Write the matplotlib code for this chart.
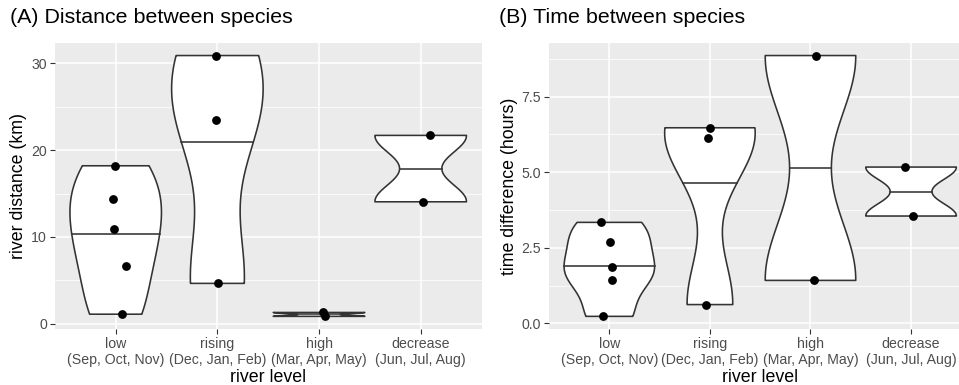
import numpy as np
import matplotlib
matplotlib.use('Agg')
import matplotlib.pyplot as plt

# Categories (river level)
LEVELS = ['low\n(Sep, Oct, Nov)', 'rising\n(Dec, Jan, Feb)',
          'high\n(Mar, Apr, May)', 'decrease\n(Jun, Jul, Aug)']

# Panel A: river distance between species (km), one list per level
dist_km = [
    [18.2, 14.4, 10.9, 6.6, 1.1],
    [30.9, 23.5, 4.65],
    [1.3, 0.85],
    [21.7, 14.05],
]
# horizontal jitter of the points (in category units)
dist_jitter = [
    [-0.01, -0.023, -0.02, 0.105, 0.066],
    [-0.016, -0.01, 0.003],
    [0.04, 0.056],
    [0.095, 0.023],
]

# Panel B: time difference between species (hours)
time_h = [
    [3.34, 2.68, 1.85, 1.43, 0.23],
    [6.47, 6.13, 0.62],
    [8.86, 1.42],
    [5.17, 3.55],
]
time_jitter = [
    [-0.083, 0.01, 0.027, 0.027, -0.06],
    [0.0, -0.017, -0.037],
    [0.05, 0.037],
    [-0.057, 0.023],
]

DIST_TICKS = [0, 10, 20, 30]
DIST_MINOR = [5, 15, 25]
TIME_TICKS = [0.0, 2.5, 5.0, 7.5]
TIME_MINOR = [1.25, 3.75, 6.25, 8.75]

FONT = 'Liberation Sans'
PANEL_BG = '#EBEBEB'
LINE_COL = '#333333'
TICK_COL = '#4D4D4D'


def bw_nrd0(x):
    """R's default bandwidth"""
    x = np.asarray(x, float)
    hi = np.std(x, ddof=1)
    q75, q25 = np.percentile(x, [75, 25])
    lo = min(hi, (q75 - q25) / 1.34)
    if not lo:
        lo = hi or abs(x[0]) or 1.0
    return 0.9 * lo * len(x) ** -0.2


def violin(ax, pos, values, width=0.9):
    """ggplot-like violin (trim=TRUE, scale='width') with median line"""
    v = np.asarray(values, float)
    bw = bw_nrd0(v)
    grid = np.linspace(v.min(), v.max(), 512)
    dens = np.exp(-0.5 * ((grid[:, None] - v[None, :]) / bw) ** 2).sum(axis=1)
    half = 0.5 * width * dens / dens.max()
    xs = np.concatenate([pos - half, (pos + half)[::-1]])
    ys = np.concatenate([grid, grid[::-1]])
    ax.fill(xs, ys, facecolor='white', edgecolor=LINE_COL, linewidth=1.15,
            zorder=3, joinstyle='round')
    # median from the density's cumulative distribution
    ecdf = np.cumsum(dens) / dens.sum()
    med = np.interp(0.5, ecdf, grid)
    hw = np.interp(med, grid, half)
    ax.plot([pos - hw, pos + hw], [med, med], color=LINE_COL, lw=1.15, zorder=4)


def draw_panel(ax, data, jitter, ticks, minor, ylabel):
    ax.set_facecolor(PANEL_BG)
    for s in ax.spines.values():
        s.set_visible(False)
    for i, (vals, jit) in enumerate(zip(data, jitter)):
        violin(ax, i + 1, vals)
        ax.scatter(np.array(jit) + i + 1, vals, s=40, color='black',
                   zorder=5, linewidths=0)
    allv = np.concatenate([np.asarray(d, float) for d in data])
    rng = allv.max() - allv.min()
    ax.set_ylim(allv.min() - 0.05 * rng, allv.max() + 0.05 * rng)
    ax.set_xlim(0.4, 4.6)
    ax.set_xticks(range(1, 5))
    ax.set_xticklabels(LEVELS, fontsize=10.2, color=TICK_COL, family=FONT,
                       linespacing=1.15)
    ax.set_yticks(ticks)
    ax.set_yticklabels([f'{t:g}' if isinstance(t, int) else f'{t:.1f}' for t in ticks],
                       fontsize=10.2, color=TICK_COL, family=FONT)
    ax.set_yticks(minor, minor=True)
    ax.tick_params(axis='both', which='major', length=3.5, width=0.8,
                   color=LINE_COL, pad=2)
    ax.tick_params(axis='y', which='minor', length=0)
    ax.grid(True, which='major', color='white', lw=1.1, zorder=0)
    ax.grid(True, which='minor', axis='y', color='white', lw=0.55, zorder=0)
    ax.set_axisbelow(True)
    ax.set_xlabel('river level', fontsize=12.8, family=FONT, labelpad=2)
    ax.set_ylabel(ylabel, fontsize=12.8, family=FONT, labelpad=3)


fig = plt.figure(figsize=(9.59, 3.85), dpi=100)
ax_a = fig.add_axes([54.7 / 959, 55.6 / 385, 427.0 / 959, 286.9 / 385])
ax_b = fig.add_axes([549.0 / 959, 55.6 / 385, 422.4 / 959, 286.9 / 385])

draw_panel(ax_a, dist_km, dist_jitter, DIST_TICKS, DIST_MINOR, 'river distance (km)')
draw_panel(ax_b, time_h, time_jitter, TIME_TICKS, TIME_MINOR, 'time difference (hours)')

fig.text(10 / 959, 1 - 8 / 385, '(A) Distance between species', fontsize=15.4,
         family=FONT, va='top', ha='left')
fig.text(499 / 959, 1 - 8 / 385, '(B) Time between species', fontsize=15.4,
         family=FONT, va='top', ha='left')

fig.savefig('out.png', dpi=100)
